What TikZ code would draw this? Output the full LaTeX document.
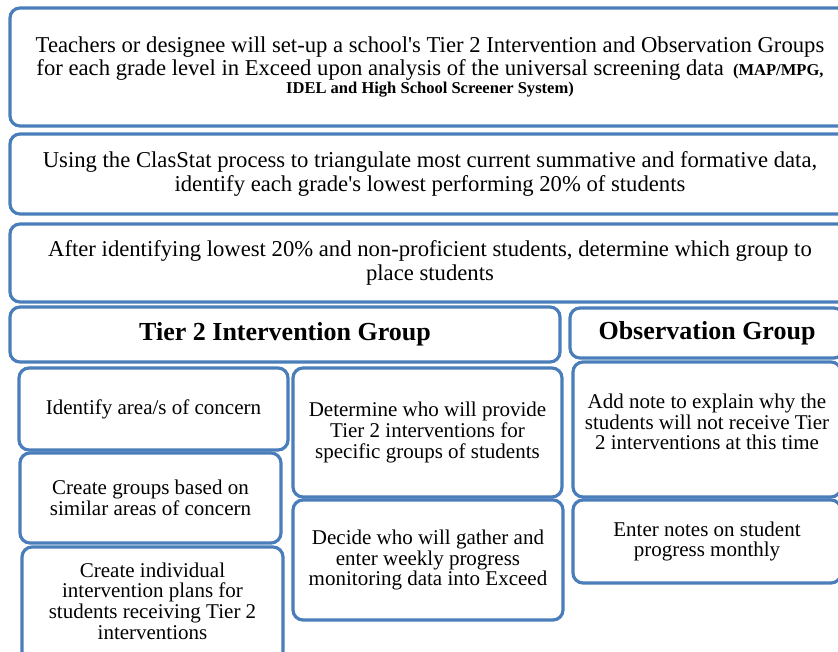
\documentclass[tikz,border=0pt]{standalone}
\usepackage{fontspec}
\setmainfont{Liberation Serif}
\definecolor{boxblue}{HTML}{4A7EBB}
\tikzset{
	box/.style 2 args={draw=boxblue, line width=2.4pt, rounded corners=7.5pt, fill=white,
		align=center, inner sep=0pt, minimum width=#1*0.75pt, minimum height=#2*0.75pt},
	bigtxt/.style={font=\fontsize{17}{17.5}\selectfont},
	smalltxt/.style={font=\fontsize{15.75}{15.5}\selectfont},
	headtxt/.style={font=\fontsize{19.5}{20}\selectfont\bfseries},
}

\begin{document}
\begin{tikzpicture}[x=0.75pt, y=-0.75pt]
		% Page frame
		\useasboundingbox[fill=white] (0,0) rectangle (838,652);
		
		% Boxes across the whole width
		\node[box={840}{118}, bigtxt] (setup) at (430,67)
			{Teachers or designee will set-up a school\textquotesingle s Tier 2 Intervention and Observation Groups\\
			 for each grade level in Exceed upon analysis of the universal screening data\hspace{7pt}{\fontsize{12.4}{13}\selectfont\bfseries (MAP/MPG,}\\[-4pt]
			 {\fontsize{12.4}{13}\selectfont\bfseries IDEL and High School Screener System)}};
		\node[box={840}{80}, bigtxt] (classtat) at (430,174)
			{Using the ClasStat process to triangulate most current summative and formative data,\\
			 identify each grade\textquotesingle s lowest performing 20\% of students};
		\node[box={840}{78}, bigtxt] (place) at (430,263)
			{After identifying lowest 20\% and non-proficient students, determine which group to\\
			 place students};
		
		% Group headings
		\node[box={550}{55}, headtxt] (tier) at (285,334.5) {Tier 2 Intervention Group};
		\node[box={274}{50}, headtxt] (obs) at (707,333) {Observation Group};
		
		% Tier 2 steps, left column
		\node[box={269}{82}, smalltxt] (area) at (153.5,409) {Identify area/s of concern};
		\node[box={261}{90}, smalltxt] (groups) at (150.5,498)
			{Create groups based on\\ similar areas of concern};
		\node[box={261}{130}, smalltxt] (plans) at (152.5,612)
			{Create individual\\ intervention plans for\\ students receiving Tier 2\\ interventions\\[1pt]};
		
		% Tier 2 steps, middle column
		\node[box={269}{129}, smalltxt] (provide) at (427.5,432.5)
			{Determine who will provide\\ Tier 2 interventions for\\ specific groups of students};
		\node[box={270}{120}, smalltxt] (gather) at (428,560)
			{Decide who will gather and\\ enter weekly progress\\ monitoring data into Exceed};
		
		% Observation steps
		\node[box={268}{135}, smalltxt] (note) at (707,429.5)
			{Add note to explain why the\\ students will not receive Tier\\ 2 interventions at this time\\[-4pt]};
		\node[box={268}{83}, smalltxt] (monthly) at (707,541.5)
			{Enter notes on student\\ progress monthly};
\end{tikzpicture}
\end{document}
